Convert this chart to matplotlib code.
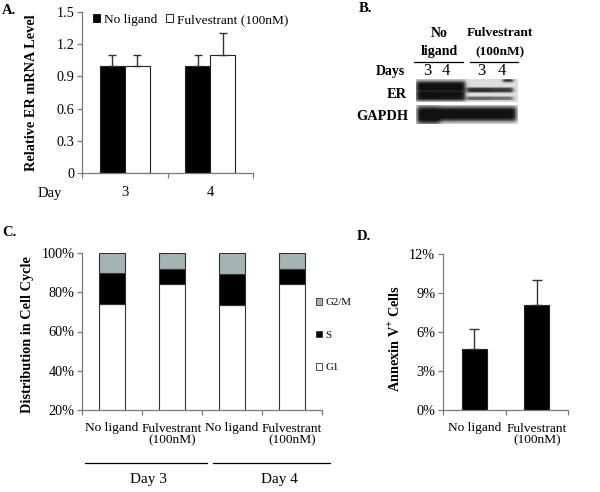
import numpy as np
import matplotlib
matplotlib.use('Agg')
import matplotlib.pyplot as plt
from matplotlib.patches import Patch
from matplotlib.lines import Line2D

plt.rcParams['font.family'] = ['Liberation Serif', 'DejaVu Serif']
plt.rcParams['mathtext.fontset'] = 'custom'
plt.rcParams['mathtext.rm'] = 'Liberation Serif'
plt.rcParams['mathtext.bf'] = 'Liberation Serif:bold'

# ---------------- data ----------------
a_days = ['3', '4']
a_no_ligand = [1.0, 1.0]
a_no_ligand_err = [0.1, 0.1]
a_fulv = [1.0, 1.1]
a_fulv_err = [0.1, 0.2]
a_yticks = [0, 0.3, 0.6, 0.9, 1.2, 1.5]
a_yticklabels = ['0', '0.3', '0.6', '0.9', '1.2', '1.5']

c_categories = ['No ligand', 'Fulvestrant\n(100nM)', 'No ligand', 'Fulvestrant\n(100nM)']
c_days = ['Day 3', 'Day 4']
c_g1 = [74, 84, 73.5, 84]
c_s = [16, 8, 16, 8]
c_g2m = [10, 8, 10.5, 8]
c_yticks = [20, 40, 60, 80, 100]

d_categories = ['No ligand', 'Fulvestrant\n(100nM)']
d_annexin = [4.7, 8.1]
d_err = [1.5, 1.9]
d_yticks = [0, 3, 6, 9, 12]

blot_lanes = ['3', '4', '3', '4']
blot_groups = [['No', 'ligand'], ['Fulvestrant', '(100nM)']]
er_upper = [0.95, 0.95, 0.80, 0.75]
er_lower = [0.92, 0.90, 0.55, 0.50]
gapdh_band = [1.0, 0.96, 0.95, 0.95]

# ---------------- helpers ----------------
W, H = 600, 492
fig = plt.figure(figsize=(6, 4.92), dpi=100)


def fx(x):
    return x / W


def fy(y):
    return 1 - y / H


def axrect(l, t, r, b):
    return [l / W, 1 - b / H, (r - l) / W, (b - t) / H]


def ftext(x, y, s, **kw):
    kw.setdefault('ha', 'center')
    kw.setdefault('va', 'center')
    fig.text(fx(x), fy(y), s, **kw)


def fline(x0, x1, y, lw=0.9, color='black'):
    fig.add_artist(Line2D([fx(x0), fx(x1)], [fy(y), fy(y)], transform=fig.transFigure,
                          color=color, lw=lw))


SPINE = '#7a7a7a'


def style(ax, n):
    for s in ['top', 'right']:
        ax.spines[s].set_visible(False)
    for s in ['left', 'bottom']:
        ax.spines[s].set_color(SPINE)
        ax.spines[s].set_linewidth(0.9)
    ax.tick_params(axis='y', direction='out', length=3.5, width=0.9, color=SPINE,
                   labelsize=10.3, pad=2)
    ax.set_xlim(-0.5, n - 0.5)
    ax.set_xticks(np.arange(-0.5, n, 1), minor=True)
    ax.tick_params(axis='x', which='minor', direction='out', length=3.8, width=0.9, color=SPINE)
    ax.tick_params(axis='x', which='major', length=0)


# ---------------- Panel A ----------------
axA = fig.add_axes(axrect(82, 12, 253, 173))
style(axA, 2)
xa = np.arange(len(a_days))
bw = 0.292
axA.bar(xa - bw / 2, a_no_ligand, width=bw, color='black', edgecolor='#222222', lw=0.8, zorder=2)
axA.bar(xa + bw / 2, a_fulv, width=bw, color='white', edgecolor='#222222', lw=0.8, zorder=2)
axA.errorbar(xa - bw / 2, a_no_ligand, yerr=[np.zeros(2), a_no_ligand_err], fmt='none',
             ecolor='#333333', elinewidth=1, capsize=2.6, capthick=1, zorder=3)
axA.errorbar(xa + bw / 2, a_fulv, yerr=[np.zeros(2), a_fulv_err], fmt='none',
             ecolor='#333333', elinewidth=1, capsize=2.6, capthick=1, zorder=3)
axA.set_ylim(0, 1.5)
axA.set_yticks(a_yticks)
axA.set_yticklabels(a_yticklabels)
axA.set_xticks(xa)
axA.set_xticklabels(a_days)
axA.tick_params(axis='x', which='major', labelsize=10.5, pad=9.5)
ftext(50, 193, 'Day', fontsize=10.5)
ftext(32, 93, 'Relative ER mRNA Level', rotation=90, fontsize=10.3, fontweight='bold')
ftext(9, 10, 'A.', fontsize=10.5, fontweight='bold')
axA.legend(handles=[Patch(facecolor='black', edgecolor='black', lw=0.6, label='No ligand'),
                    Patch(facecolor='white', edgecolor='black', lw=0.6, label='Fulvestrant (100nM)')],
           loc='center left', bbox_to_anchor=(fx(93), fy(20)), bbox_transform=fig.transFigure,
           ncol=2, frameon=False, fontsize=9.6, handlelength=0.55, handleheight=0.55,
           handletextpad=0.3, columnspacing=0.6, borderpad=0, borderaxespad=0)

# ---------------- Panel B (blot) ----------------
ftext(365, 9, 'B.', fontsize=10.5, fontweight='bold')
ftext(439, 33, blot_groups[0][0], fontsize=10, fontweight='bold')
ftext(439, 52, blot_groups[0][1], fontsize=10, fontweight='bold')
ftext(500, 33, blot_groups[1][0], fontsize=9.6, fontweight='bold')
ftext(500, 52, blot_groups[1][1], fontsize=9.6, fontweight='bold')
fline(414, 463, 62, lw=0.9)
fline(470, 518, 62, lw=0.9)
ftext(390, 71, 'Days', fontsize=10, fontweight='bold')
lane_px = [427, 446, 481, 502]
for xp, lab in zip(lane_px, blot_lanes):
    ftext(xp, 71, lab, fontsize=12)
ftext(397, 94, 'ER', fontsize=10.4, fontweight='bold')
ftext(382, 116, 'GAPDH', fontsize=10.4, fontweight='bold')

bl, bt, br, bb = 416, 79, 518, 124
nx, ny = br - bl, bb - bt
yy = np.arange(ny)[:, None] + 0.5
xx = np.arange(nx)[None, :] + 0.5


def window(lo, hi, soft=1.2):
    return 1 / (1 + np.exp(-(xx - lo) / soft)) / (1 + np.exp((xx - hi) / soft))


er_edges = [(0.5, 20.5), (20.5, 49), (51, 75.5), (75.5, 97)]
g_edges = [(1.5, 24), (24, 48), (48, 75), (75, 100)]
img = np.ones((ny, nx))
er_rows = (yy < 23).astype(float)
g_rows = (yy >= 26).astype(float)
bg = np.where(xx < 50, 0.80, 0.87)
img = np.where(er_rows > 0, bg, img)
img = np.where(g_rows > 0, 0.86, img)
dark = np.zeros((ny, nx))
up_y = [8, 8, 11, 11]
up_s = [6, 6, 2.6, 2.6]
lo_y = [17.5, 17.5, 19.3, 19.3]
lo_s = [4.3, 4.3, 1.9, 1.9]
for i in range(4):
    wdw = window(*er_edges[i])
    dark += er_upper[i] * np.exp(-((yy - up_y[i]) / up_s[i]) ** 4) * wdw * er_rows
    dark += er_lower[i] * np.exp(-((yy - lo_y[i]) / lo_s[i]) ** 4) * wdw * er_rows
    gy = 35.0 if i > 0 else 36.0
    gs = 7.5 if i > 0 else 9.0
    dark += gapdh_band[i] * np.exp(-((yy - gy) / gs) ** 4) * window(*g_edges[i]) * g_rows
# small smudge at top right
dark += 0.8 * np.exp(-((yy - 1.5) / 1.8) ** 2) * window(87, 97, 1.0) * er_rows
img = np.clip(img * (1 - np.clip(dark, 0, 0.92)), 0.05, 1)
axB = fig.add_axes(axrect(bl, bt, br, bb))
axB.imshow(img, cmap='gray', vmin=0, vmax=1, aspect='auto', interpolation='bilinear',
           extent=(0, nx, ny, 0))
axB.axis('off')

# ---------------- Panel C ----------------
axC = fig.add_axes(axrect(82, 253, 322, 410))
style(axC, 4)
xc = np.arange(len(c_categories))
cw = 0.417
g1 = np.array(c_g1)
s = np.array(c_s)
g2 = np.array(c_g2m)
axC.bar(xc, g1, width=cw, color='white', edgecolor='#333333', lw=0.8, zorder=2)
axC.bar(xc, s, bottom=g1, width=cw, color='black', edgecolor='#333333', lw=0.8, zorder=2)
axC.bar(xc, g2, bottom=g1 + s, width=cw, color='#a4b4b2', edgecolor='#333333', lw=0.8, zorder=2)
axC.set_ylim(20, 100)
axC.set_yticks(c_yticks)
axC.set_yticklabels([f'{v}%' for v in c_yticks])
axC.set_xticks(xc)
axC.set_xticklabels(c_categories, linespacing=1.0)
axC.tick_params(axis='x', which='major', labelsize=9.6, pad=9)
fline(85, 207, 463, lw=0.9)
fline(213, 330, 463, lw=0.9)
ftext(148, 480, c_days[0], fontsize=11)
ftext(279, 480, c_days[1], fontsize=11)
ftext(28, 335, 'Distribution in Cell Cycle', rotation=90, fontsize=10.3, fontweight='bold')
ftext(9, 233, 'C.', fontsize=10.5, fontweight='bold')
axC.legend(handles=[Patch(facecolor='#a4b4b2', edgecolor='#333333', lw=0.6, label='G2/M'),
                    Patch(facecolor='black', edgecolor='#333333', lw=0.6, label='S'),
                    Patch(facecolor='white', edgecolor='#333333', lw=0.6, label='G1')],
           loc='upper left', bbox_to_anchor=(fx(316), fy(298)), bbox_transform=fig.transFigure,
           frameon=False, fontsize=7.8, handlelength=0.6, handleheight=0.6,
           handletextpad=0.3, labelspacing=2.15, borderpad=0, borderaxespad=0)

# ---------------- Panel D ----------------
axD = fig.add_axes(axrect(443, 254, 568, 410))
style(axD, 2)
xd = np.arange(len(d_categories))
dw = 0.4
axD.bar(xd, d_annexin, width=dw, color='black', edgecolor='#222222', lw=0.8, zorder=2)
axD.errorbar(xd, d_annexin, yerr=[np.zeros(2), d_err], fmt='none', ecolor='#333333',
             elinewidth=1, capsize=3.5, capthick=1, zorder=3)
axD.set_ylim(0, 12)
axD.set_yticks(d_yticks)
axD.set_yticklabels([f'{v}%' for v in d_yticks])
axD.set_xticks(xd)
axD.set_xticklabels(d_categories, linespacing=1.0)
axD.tick_params(axis='x', which='major', labelsize=9.6, pad=9)
ftext(395, 339, r'Annexin V$^{\mathbf{+}}$ Cells', rotation=90, fontsize=10.3, fontweight='bold')
ftext(364, 237, 'D.', fontsize=10.5, fontweight='bold')

fig.savefig('out.png', dpi=100)
